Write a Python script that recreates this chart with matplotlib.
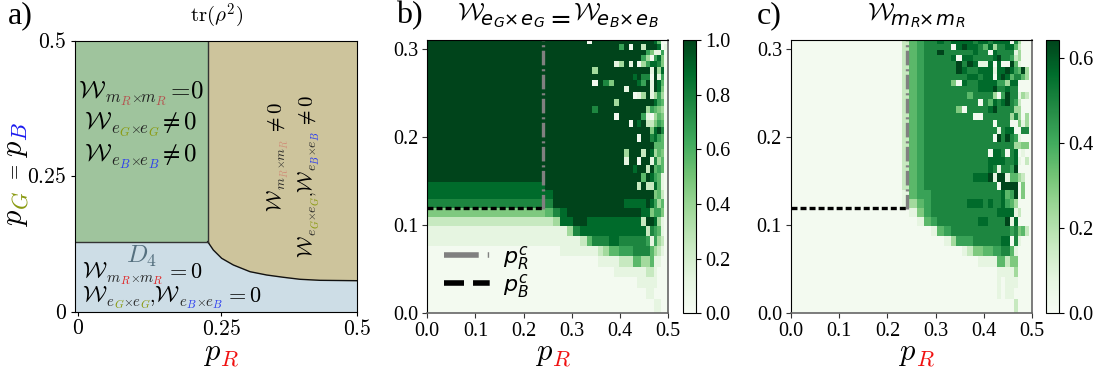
import numpy as np
import matplotlib
matplotlib.use('Agg')
import matplotlib.pyplot as plt
from matplotlib.font_manager import FontProperties
from matplotlib.lines import Line2D

W, H = 1104, 375

# phase boundary in panel a) (p_R, p_G)
curve_pr = [0.235, 0.245, 0.2598, 0.2804, 0.31, 0.3395, 0.369, 0.3985, 0.4339, 0.5]
curve_pg = [0.1292, 0.1138, 0.0985, 0.0862, 0.0738, 0.0677, 0.0635, 0.0598, 0.0579, 0.0572]
corner_pr = 0.235
corner_pg = 0.1292

# critical points
pc_R = 0.241
pc_B = 0.12

# heatmap cell edges (the grid gets finer towards p = 0.5)
x_edges = [0, .024, .047, .069, .09, .11, .129, .147, .164, .18, .196, .213, .23,
           .2455, .2608, .2759, .2898, .3035, .3174, .3313, .3423, .3548, .3645,
           .377, .388, .399, .409, .42, .428, .436, .445, .454, .462, .4705, .478,
           .486, .493, .5]
y_edges = [0, .0159, .0284, .0415, .0528, .065, .0763, .088, .099, .1096, .1198,
           .1296, .1398, .1492, .1588, .1682, .1772, .1863, .1946, .203, .2109,
           .2192, .2268, .2351, .243, .2513, .2581, .2649, .2717, .2793, .2864,
           .2933, .2986, .3054, .31]

# shade level of a cell, as a fraction of the colour range
levels = [0.03, 0.12, 0.25, 0.37, 0.47, 0.56, 0.66, 0.77, 0.88, 1.0]

# panel b), one string per row from the top, one digit per cell
rows_b = [
    "9999999999999" "999999" "099999" "999999" "998500",
    "9999999999999" "999999" "999999" "690992" "999801",
    "9999999999999" "999999" "999999" "999999" "641160",
    "9999999999999" "999999" "999999" "999996" "306840",
    "9999999999999" "999999" "999991" "391903" "688740",
    "9999999999999" "999999" "939999" "999999" "919380",
    "9999999999999" "999999" "999999" "999897" "709160",
    "9999999999999" "999999" "909749" "999986" "919850",
    "9999999999999" "999999" "999999" "919999" "919840",
    "9999999999999" "999999" "999999" "999013" "913630",
    "9999999999999" "999999" "999993" "999999" "998650",
    "9999999999999" "999999" "979999" "999999" "365430",
    "9999999999999" "999999" "999990" "999996" "103540",
    "9999999999999" "999999" "999999" "990989" "224650",
    "9999999999999" "999999" "999999" "999999" "948970",
    "9999999999999" "999999" "999999" "999909" "978650",
    "9999999999999" "999999" "999999" "999999" "995550",
    "9999999999999" "999999" "999999" "939992" "983540",
    "9999999999999" "999999" "999999" "919909" "917350",
    "9999999999999" "999999" "999999" "999899" "295650",
    "9999999999999" "999999" "999999" "999995" "986510",
    "8888888888888" "999999" "999999" "999929" "228510",
    "8888888888888" "899999" "999999" "999999" "994520",
    "7777777777777" "799999" "999999" "988888" "986350",
    "4444444444444" "578999" "999999" "999998" "846640",
    "2222222222222" "238899" "888888" "888882" "998310",
    "1111111111111" "111378" "888888" "888888" "276510",
    "1111111111111" "111112" "577788" "777777" "616320",
    "0000000000000" "001111" "112355" "666777" "753210",
    "0000000000000" "000000" "001111" "222553" "351100",
    "0000000000000" "000000" "000001" "111111" "221000",
    "0000000000000" "000000" "000000" "000011" "111000",
    "0000000000000" "000000" "000000" "000000" "110000",
    "0000000000000" "000000" "000000" "000000" "001100",
]

# panel c), same layout
rows_c = [
    "0000000000002" "567787" "888878" "878888" "073000",
    "0000000000002" "567777" "089887" "583778" "852000",
    "0000000000002" "567797" "777787" "708777" "713000",
    "0000000000002" "567777" "808877" "778977" "623000",
    "0000000000002" "567777" "797981" "180800" "951000",
    "0000000000002" "567777" "798778" "881889" "865930",
    "0000000000002" "567777" "777887" "880898" "577530",
    "0000000000002" "567777" "408778" "888663" "880000",
    "0000000000002" "567777" "777778" "889778" "770000",
    "0000000000002" "567777" "777577" "773069" "771320",
    "0000000000002" "567777" "777770" "758789" "762000",
    "0000000000002" "567777" "740777" "789777" "733000",
    "0000000000002" "567777" "777700" "777777" "373030",
    "0000000000002" "567777" "777777" "770777" "004130",
    "0000000000002" "567777" "777777" "777178" "800770",
    "0000000000002" "567777" "777777" "770979" "761000",
    "0000000000002" "567777" "777777" "777777" "733440",
    "0000000000002" "567777" "777777" "708870" "780100",
    "0000000000002" "567777" "777777" "788887" "781020",
    "0000000000002" "567777" "777777" "787177" "690000",
    "0000000000002" "567777" "777788" "891991" "553200",
    "0000000000002" "567777" "777777" "777099" "990400",
    "0000000000001" "566777" "777777" "777785" "690400",
    "0000000000001" "356777" "777888" "787786" "530000",
    "0000000000000" "146777" "777777" "777888" "812000",
    "0000000000000" "015677" "777778" "877779" "180000",
    "0000000000000" "000156" "777777" "777777" "674520",
    "0000000000000" "000001" "366677" "777788" "071000",
    "0000000000000" "000000" "001244" "556677" "510000",
    "0000000000000" "000000" "000001" "111552" "440000",
    "0000000000000" "000000" "000000" "000111" "130000",
    "0000000000000" "000000" "000000" "000101" "110000",
    "0000000000000" "000000" "000000" "000101" "100000",
    "0000000000000" "000000" "000000" "000000" "020000",
]

vmax_b = 1.0
vmax_c = 0.642

plt.rcParams['mathtext.fontset'] = 'cm'
plt.rcParams['font.family'] = ['Liberation Serif', 'DejaVu Serif']
plt.rcParams['lines.scale_dashes'] = False

fig = plt.figure(figsize=(W / 100, H / 100), dpi=100)
renderer = fig.canvas.get_renderer()


def box(left, top, right, bottom):
    return [left / W, 1 - bottom / H, (right - left) / W, (bottom - top) / H]


def put(x, y, parts, rot=0, math='cm', gap=-1):
    # writes the pieces one after the other, x and y in pixels from top left
    for tex, col, size, dy in parts:
        if rot == 0:
            t = fig.text(x / W, 1 - (y - dy) / H, tex, color=col, fontsize=size,
                         ha='left', va='baseline', math_fontfamily=math)
            x += t.get_window_extent(renderer).width + gap
        else:
            t = fig.text((x - dy) / W, 1 - y / H, tex, color=col, fontsize=size,
                         rotation=90, rotation_mode='anchor', ha='left', va='baseline',
                         math_fontfamily=math)
            y -= t.get_window_extent(renderer).height + gap


def w_parts(a, b, col, s=1.0):
    return [(r'$\mathcal{W}$', 'k', 18 * s, 0),
            (f'${a}$', '#222222', 12 * s, -4 * s),
            (f'${b}$', col, 9 * s, -7 * s),
            (r'$\times$', '#222222', 10 * s, -4 * s),
            (f'${a}$', '#222222', 12 * s, -4 * s),
            (f'${b}$', col, 9 * s, -7 * s)]


def title_w(x_w, x_sub, x_times, x_sub2, a, b):
    # title of b) and c): script W, subscripts in the sans math font
    put(x_w, 20, [(r'$\mathcal{W}$', 'k', 18, 0)])
    for x in [x_sub, x_sub2]:
        put(x, 25, [(f'${a}$', 'k', 14, 0), (f'${b}$', 'k', 10, -2)], math='dejavusans', gap=0)
    put(x_times, 25, [(r'$\times$', 'k', 13, 0)], math='dejavusans')


def to_values(rows):
    # bottom row first for pcolormesh
    return np.array([[levels[int(c)] for c in r] for r in rows[::-1]])


# a) phase diagram
ax = fig.add_axes(box(75, 40.7, 357.3, 311.7))
ax.set_xlim(0, 0.5)
ax.set_ylim(0, 0.5)
ax.fill_between([0, 0.5], 0, 0.5, color='#cdc49c', lw=0)
ax.fill_between([0, corner_pr], corner_pg, 0.5, color='#9fc49d', lw=0)
ax.fill_between([0] + curve_pr, [corner_pg] + curve_pg, 0, color='#cddde6', lw=0)
ax.plot(curve_pr, curve_pg, color='#111111', lw=1)
ax.plot([corner_pr, corner_pr], [corner_pg, 0.5], color='#333333', lw=1)
ax.plot([0, corner_pr], [corner_pg, corner_pg], color='#333333', lw=1)
ax.set_xticks([0.006, 0.259, 0.5], ['$0$', '$0.25$', '$0.5$'], fontsize=15.5)
ax.set_yticks([0, 0.251, 0.5], ['$0$', '$0.25$', '$0.5$'], fontsize=15.5)
ax.tick_params(length=3, pad=3)

put(78, 98, w_parts('m', 'R', '#b5534f') + [(r'$=\!0$', 'k', 18, 0)])
put(84, 129, w_parts('e', 'G', '#8a9a10') + [(r'$\neq 0$', 'k', 18, 0)])
put(84, 161, w_parts('e', 'B', '#2a3cf0') + [(r'$\neq 0$', 'k', 18, 0)])
put(126, 263, [('$D_4$', '#55707f', 18, 0)])
put(82, 278, w_parts('m', 'R', '#e02020', 0.9) + [(r'$\,=0$', 'k', 16, 0)])
put(82, 302, w_parts('e', 'G', '#8a9a10', 0.9) + [('$,$', 'k', 14, 0)]
    + w_parts('e', 'B', '#2a3cf0', 0.9) + [(r'$\,=0$', 'k', 16, 0)])
put(282, 212, w_parts('m', 'R', '#d0907a', 0.8) + [(r'$\;\neq 0$', 'k', 15, 0)], rot=90)
put(313, 258, w_parts('e', 'G', '#8a9a10', 0.8) + [('$,$', 'k', 12, 0)]
    + w_parts('e', 'B', '#2a3cf0', 0.8) + [(r'$\;\neq 0$', 'k', 15, 0)], rot=90)

put(190, 22, [(r'$\mathrm{tr}(\rho^2)$', 'k', 15, 0)])
put(8, 23, [('a)', 'k', 23, 0)])
put(203, 360, [('$p$', 'k', 22, 0), ('$R$', '#f01010', 16, -5)])
put(22, 227, [('$p$', 'k', 22, 0), ('$G$', '#8a9a10', 16, -5)], rot=90)
put(19, 183, [('$=$', 'k', 14, 0)], rot=90)
put(22, 158, [('$p$', 'k', 22, 0), ('$B$', '#1a1af0', 16, -5)], rot=90)

# b) and c) heatmaps
for rows, vmax, rect, cbar_rect, cticks, letter in [
    (rows_b, vmax_b, (427.3, 40, 667.8, 313.3), (683, 40, 696, 313.3),
     [0, 0.2, 0.4, 0.6, 0.8, 1.0], ('b)', 396)),
    (rows_c, vmax_c, (791, 40, 1032, 313.3), (1046, 40, 1059, 313.3),
     [0, 0.2, 0.4, 0.6], ('c)', 757)),
]:
    ax = fig.add_axes(box(*rect))
    mesh = ax.pcolormesh(x_edges, y_edges, to_values(rows) * vmax, cmap='Greens',
                         vmin=0, vmax=vmax, linewidth=0, antialiased=False)
    ax.plot([pc_R, pc_R], [pc_B - 0.002, 0.31], color='#808080', lw=2.4,
            dashes=(10.5, 2.5, 1.5, 2.8))
    ax.plot([0, pc_R], [pc_B, pc_B], color='k', lw=2.4, dashes=(4.3, 2.2))
    ax.set_xlim(0, 0.5)
    ax.set_ylim(0, 0.31)
    ax.set_xticks([0, 0.1, 0.2, 0.3, 0.4, 0.5])
    ax.set_yticks([0, 0.1, 0.2, 0.3])
    ax.tick_params(labelsize=14.5, length=3.5, color='#333333', pad=3)
    for side in ['right', 'bottom']:
        ax.spines[side].set_color('#666666')
        ax.spines[side].set_linewidth(1.2)

    cax = fig.add_axes(box(*cbar_rect))
    cbar = fig.colorbar(mesh, cax=cax)
    cbar.set_ticks(cticks)
    cbar.ax.tick_params(labelsize=14.5, length=3.5, pad=3)

    centre = (rect[0] + rect[2]) / 2
    put(letter[1], 23, [(letter[0], 'k', 23, 0)])
    put(centre - 13, 360, [('$p$', 'k', 22, 0), ('$R$', '#f01010', 16, -5)])

    if letter[0] == 'b)':
        handles = [Line2D([], [], color='#808080', lw=4, dashes=(25, 6.5, 1, 100)),
                   Line2D([], [], color='k', lw=4, dashes=(14.4, 6.5, 12, 100))]
        ax.legend(handles, ['$p_R^c$', '$p_B^c$'], frameon=False, handlelength=2.1,
                  labelspacing=0.0, handletextpad=0.54, loc='lower left',
                  bbox_to_anchor=(0.07, 0.05), borderaxespad=0, borderpad=0,
                  prop=FontProperties(size=16, math_fontfamily='dejavusans'))

title_w(457, 480, 503, 520, 'e', 'G')
put(544, 26, [('$=$', 'k', 19, 0)], math='dejavusans')
title_w(573, 596, 618, 635, 'e', 'B')
title_w(867, 890, 918, 935, 'm', 'R')

fig.savefig('out.png', dpi=100)
